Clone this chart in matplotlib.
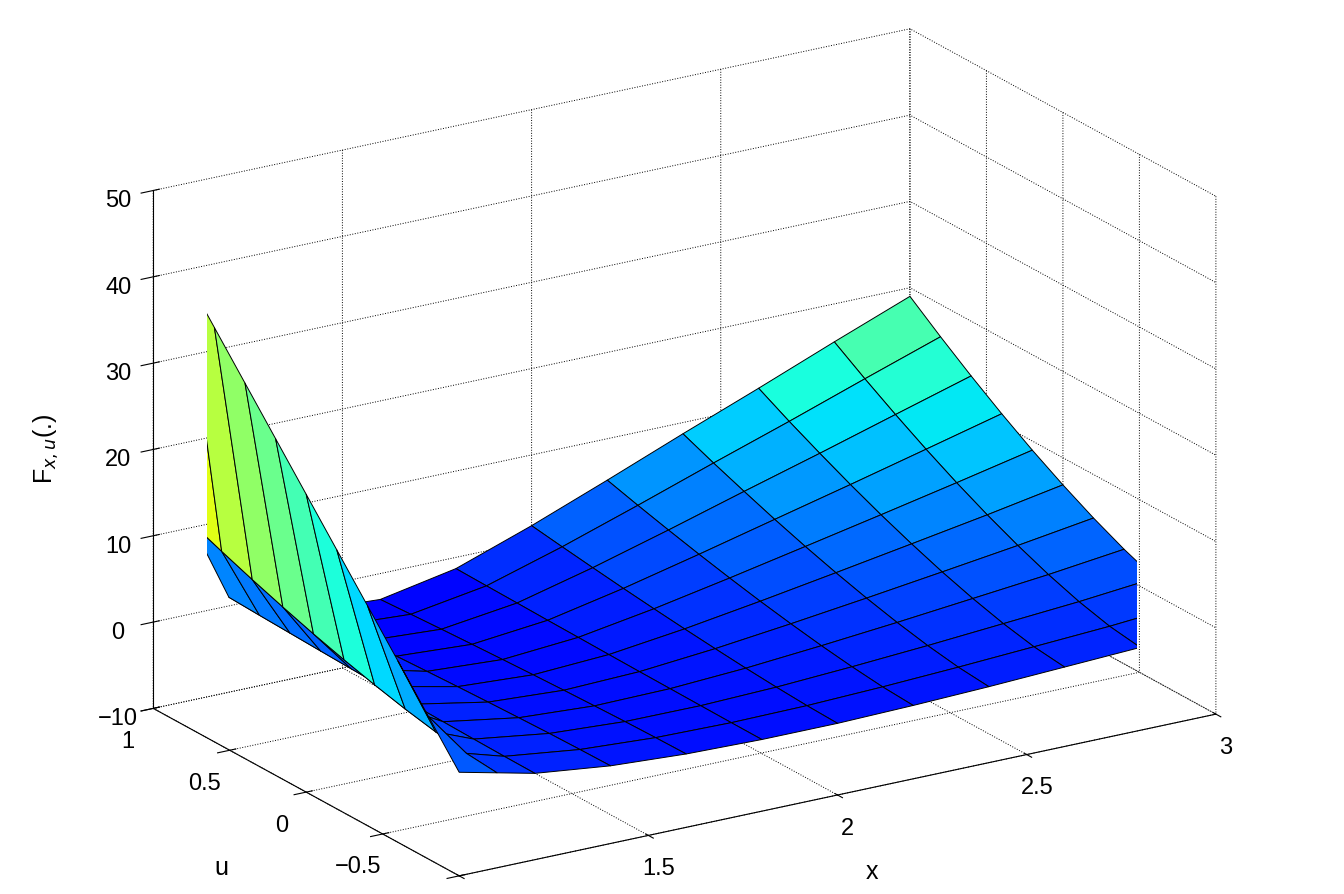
import numpy as np
import matplotlib
matplotlib.use('Agg')
import matplotlib.pyplot as plt
from matplotlib.colors import Normalize

plt.rcParams['font.family'] = ['Liberation Sans', 'DejaVu Sans']
plt.rcParams['axes.unicode_minus'] = True

# grid of x (columns) and u (rows)
x_vals = [1.0, 1.1, 1.2, 1.4, 1.6, 1.8, 2.0, 2.2, 2.4, 2.6, 2.8, 3.0]
u_vals = [-1.0, -0.8, -0.6, -0.4, -0.2, 0.0, 0.2, 0.4, 0.6, 0.8, 1.0]

# F_{x,u}, one row per u value
F = [
    [2.0, 1.0, 0.00, -1.00, -1.50, -1.70, -1.70, -1.50, -1.20, -0.80, -0.40, 0.20],
    [6.5, 1.31, 0.03, -1.05, -1.55, -1.69, -1.59, -1.29, -0.88, -0.39, 0.11, 0.80],
    [11.0, 1.85, 0.09, -1.13, -1.63, -1.66, -1.39, -0.90, -0.32, 0.35, 1.02, 1.87],
    [15.5, 2.57, 0.16, -1.25, -1.75, -1.63, -1.13, -0.40, 0.42, 1.32, 2.22, 3.28],
    [20.0, 3.43, 0.25, -1.38, -1.88, -1.60, -0.81, 0.20, 1.30, 2.46, 3.65, 4.96],
    [24.5, 4.40, 0.35, -1.53, -2.03, -1.56, -0.46, 0.87, 2.30, 3.77, 5.26, 6.86],
    [29.0, 5.46, 0.47, -1.70, -2.20, -1.51, -0.07, 1.62, 3.40, 5.20, 7.04, 8.94],
    [33.5, 6.63, 0.59, -1.88, -2.38, -1.47, 0.35, 2.43, 4.60, 6.76, 8.98, 11.22],
    [38.0, 7.87, 0.72, -2.07, -2.57, -1.41, 0.81, 3.30, 5.90, 8.44, 11.06, 13.66],
    [42.5, 9.20, 0.85, -2.28, -2.78, -1.36, 1.29, 4.22, 7.25, 10.20, 13.26, 16.26],
    [47.0, 10.6, 1.00, -2.50, -3.00, -1.30, 1.80, 5.20, 8.70, 12.10, 15.60, 19.00],
]

X, U = np.meshgrid(x_vals, u_vals)
Z = np.array(F)

fig = plt.figure(figsize=(13.44, 8.94), dpi=100)
ax = fig.add_axes([0.0, -0.04, 1.0, 1.04], projection='3d')
ax.set_proj_type('ortho')
ax.plot_surface(X, U, Z, cmap='jet', norm=Normalize(-10, 50),
                edgecolor='black', linewidth=0.7,
                shade=False, antialiased=True, rstride=1, cstride=1)

ax.set_xlim(1, 3)
ax.set_ylim(-1, 1)
ax.set_zlim(-10, 50)
ax.set_xticks([1, 1.5, 2, 2.5, 3])
ax.set_xticklabels(['1', '1.5', '2', '2.5', '3'])
ax.set_yticks([-1, -0.5, 0, 0.5, 1])
ax.set_yticklabels(['\u22121', '\u22120.5', '0', '0.5', '1'])
ax.set_zticks([-10, 0, 10, 20, 30, 40, 50])
ax.set_zticklabels(['\u221210', '0', '10', '20', '30', '40', '50'])
ax.tick_params(labelsize=17)
ax.set_xlabel('x', fontsize=18, labelpad=18)
ax.set_ylabel('u', fontsize=18, labelpad=18)
ax.set_zlabel('F$_{x,u}$(.)', fontsize=18, labelpad=14)

for axis in (ax.xaxis, ax.yaxis, ax.zaxis):
    axis.set_pane_color((1, 1, 1, 0))
    axis._axinfo['grid'].update(linestyle=':', color='k', linewidth=0.7)
    axis.line.set_color('k')

ax.view_init(elev=20, azim=-122)
ax.set_box_aspect((1.7, 1.1, 1.05), zoom=1.25)

fig.savefig('out.png', dpi=100)
